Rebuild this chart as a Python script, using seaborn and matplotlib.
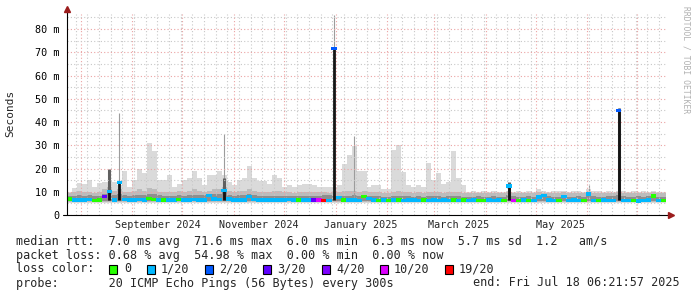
import numpy as np
import pandas as pd
import matplotlib
matplotlib.use("Agg")
import matplotlib.pyplot as plt
import matplotlib.dates as mdates
from matplotlib.ticker import MultipleLocator, FuncFormatter, NullFormatter
from matplotlib.patches import Rectangle
import seaborn as sns

# ---------------- data ----------------
period_start = "2024-07-23 18:00"
period_end = "2025-07-18 06:21:57"

loss_levels = ["0", "1/20", "2/20", "3/20", "4/20", "10/20", "19/20"]
loss_colors = ["#26ff00", "#00b8ff", "#0059ff", "#5e00ff", "#7e00ff", "#dd00ff", "#ff0000"]

# median rtt per 3-day bin (ms)
median_ms = [
    6.8, 6.5, 6.4, 6.5, 6.6, 6.3, 6.4, 8.0, 10.0, 6.5,
    14.0, 6.6, 6.5, 6.4, 6.6, 6.5, 7.0, 6.6, 6.5, 6.4,
    6.4, 6.5, 6.6, 6.4, 6.5, 6.6, 6.5, 6.5, 8.5, 6.8,
    6.6, 10.5, 6.8, 6.5, 6.4, 6.5, 8.0, 6.6, 6.5, 6.4,
    6.5, 6.4, 6.5, 6.5, 6.6, 6.4, 6.5, 6.4, 6.5, 6.4,
    6.5, 6.3, 6.3, 71.6, 7.5, 6.4, 6.5, 6.4, 6.3, 8.0,
    7.2, 6.4, 6.3, 6.4, 6.3, 6.5, 6.4, 6.3, 6.4, 6.4,
    6.3, 6.4, 6.3, 6.4, 6.3, 6.4, 6.3, 6.4, 6.3, 6.4,
    6.3, 6.4, 6.3, 6.3, 6.4, 6.3, 6.4, 6.3, 12.5, 6.2,
    6.3, 6.4, 6.3, 6.3, 7.8, 8.5, 6.4, 6.3, 6.3, 8.0,
    6.3, 6.4, 6.3, 6.3, 9.0, 6.3, 6.3, 6.4, 6.3, 6.3,
    45.0, 6.3, 6.2, 6.3, 6.0, 6.3, 6.4, 8.2, 6.3, 6.3,
]

# loss level index per bin
loss_idx = [
    0, 1, 1, 1, 1, 0, 0, 3, 1, 1,
    1, 1, 1, 1, 1, 1, 0, 0, 1, 0,
    1, 1, 0, 1, 1, 1, 1, 1, 1, 1,
    1, 1, 1, 1, 1, 1, 1, 1, 1, 1,
    1, 1, 1, 1, 1, 1, 0, 1, 1, 3,
    5, 6, 1, 2, 1, 0, 1, 1, 1, 0,
    1, 1, 0, 1, 0, 1, 0, 1, 1, 1,
    1, 0, 1, 1, 1, 1, 1, 0, 1, 0,
    1, 1, 0, 0, 1, 1, 1, 0, 1, 5,
    0, 1, 0, 1, 1, 1, 1, 1, 0, 1,
    1, 1, 1, 0, 1, 1, 0, 1, 1, 1,
    2, 1, 1, 0, 1, 1, 1, 0, 1, 0,
]

# smoke: lowest ping, dense band tops and highest ping per bin (ms)
smoke_min = [
    5.0, 5.1, 5.0, 5.0, 5.2, 5.0, 5.1, 5.0, 5.2, 5.0,
    5.1, 5.0, 5.0, 5.1, 5.0, 5.0, 5.2, 5.0, 5.1, 5.0,
    5.0, 5.1, 5.0, 5.0, 5.1, 5.0, 5.0, 5.1, 5.0, 5.2,
    5.0, 5.1, 5.0, 5.0, 5.1, 5.0, 5.0, 5.1, 5.0, 5.0,
    5.1, 5.0, 5.0, 5.1, 5.0, 5.0, 5.1, 5.0, 5.0, 5.1,
    5.0, 5.0, 5.1, 5.0, 5.0, 5.1, 5.0, 5.0, 5.1, 5.0,
    5.0, 5.1, 5.0, 5.0, 5.1, 5.0, 5.0, 5.1, 5.0, 5.0,
    5.1, 5.0, 5.0, 5.1, 5.0, 5.0, 5.1, 5.0, 5.0, 5.1,
    5.0, 5.0, 5.1, 5.0, 5.0, 5.1, 5.0, 5.0, 5.1, 5.0,
    5.0, 5.1, 5.0, 5.0, 5.1, 5.0, 5.0, 5.1, 5.0, 5.0,
    5.1, 5.0, 5.0, 5.1, 5.0, 5.0, 5.1, 5.0, 5.0, 5.1,
    5.0, 5.0, 5.1, 5.0, 5.0, 5.1, 5.0, 5.0, 5.1, 5.0,
]
smoke_mid = [
    8.0, 8.2, 8.5, 8.3, 8.5, 8.0, 8.3, 9.0, 10.0, 8.5,
    9.0, 8.5, 8.2, 8.5, 8.8, 8.5, 9.0, 9.0, 8.5, 8.3,
    8.2, 8.2, 8.5, 8.3, 8.5, 8.8, 8.5, 8.5, 9.0, 9.0,
    9.0, 10.0, 8.5, 8.3, 8.5, 8.5, 9.0, 8.5, 8.3, 8.2,
    8.2, 8.3, 8.3, 8.0, 8.0, 8.0, 8.2, 8.0, 8.0, 8.2,
    8.3, 8.5, 8.5, 8.3, 8.0, 8.3, 8.3, 8.5, 8.2, 8.7,
    8.3, 8.0, 8.0, 7.8, 7.8, 8.0, 8.2, 8.0, 8.0, 7.8,
    8.0, 7.8, 8.0, 8.0, 8.0, 7.8, 8.0, 8.2, 8.0, 7.8,
    7.8, 7.8, 8.0, 7.8, 7.8, 8.0, 7.8, 7.8, 8.5, 8.3,
    7.8, 7.8, 8.0, 7.8, 8.3, 8.5, 8.0, 7.8, 7.8, 8.3,
    7.8, 7.8, 8.0, 7.8, 8.5, 8.0, 7.8, 7.8, 8.0, 8.0,
    8.5, 8.0, 7.8, 7.8, 8.0, 7.8, 8.0, 8.5, 7.8, 7.8,
]
smoke_upper = [
    9.5, 10.0, 10.5, 10.0, 10.0, 9.5, 10.0, 11.0, 12.0, 10.5,
    11.0, 10.0, 10.0, 10.5, 11.0, 10.5, 11.5, 11.0, 10.0, 10.0,
    10.0, 10.0, 10.5, 10.0, 10.5, 11.0, 10.5, 10.0, 10.5, 11.0,
    11.0, 12.0, 10.5, 10.0, 10.5, 10.5, 11.0, 10.5, 10.0, 10.0,
    10.0, 10.5, 10.5, 10.0, 10.0, 9.5, 10.0, 10.0, 10.0, 10.0,
    10.0, 10.0, 9.5, 10.0, 10.0, 10.5, 10.5, 10.5, 10.0, 10.5,
    10.0, 10.0, 10.0, 9.5, 9.5, 10.0, 10.5, 10.0, 10.0, 9.5,
    10.0, 9.5, 10.0, 10.0, 10.0, 9.5, 10.0, 10.0, 10.0, 9.5,
    9.5, 9.5, 9.5, 9.5, 9.5, 9.5, 9.5, 9.5, 10.0, 9.5,
    9.5, 9.5, 9.5, 9.5, 10.0, 9.5, 9.5, 9.5, 9.5, 10.0,
    9.5, 9.5, 9.5, 9.5, 10.0, 9.5, 9.5, 9.5, 9.5, 9.5,
    10.0, 9.5, 9.5, 9.5, 9.5, 9.5, 9.5, 10.0, 9.5, 9.5,
]
smoke_max = [
    10, 11.5, 13.7, 13.5, 15, 12, 13.7, 14, 14, 14,
    13, 19, 12, 15, 20, 18, 31, 27.5, 15, 15,
    17, 12, 13.5, 15, 16, 19, 16, 13, 17, 17,
    19, 17, 14, 13, 15, 16, 21, 16, 14.5, 14.5,
    13.5, 17, 16, 12, 13, 12, 13, 13.5, 13.5, 13,
    12, 12, 12, 12, 13, 22, 26, 29.5, 19, 19,
    12, 13, 13, 11, 11, 28, 30, 18.5, 13, 12,
    13, 12, 22.5, 15, 18, 13.5, 14, 27.5, 16, 13,
    10, 10.5, 10, 10.5, 10, 10.5, 10, 10, 10.5, 10,
    10.5, 10, 10.5, 10, 11, 10.5, 10, 10.5, 10.5, 10.5,
    10, 10.5, 10.5, 10, 11, 10.5, 10.5, 10, 10.5, 10,
    10.5, 10.5, 10, 10.5, 10, 10.5, 10, 10.5, 10, 10,
]

# dense dark smoke spikes and single high pings
dark_bins = [8, 31, 88, 110]
dark_vals = [20, 16, 14, 46]
thin_bins = [10, 31, 53, 57, 104, 110]
thin_vals = [44, 35, 86, 34, 13, 46]

month_labels = ["September 2024", "November 2024", "January 2025", "March 2025", "May 2025"]
month_label_dates = ["2024-09-16", "2024-11-16", "2025-01-16", "2025-03-16", "2025-05-16"]

stats_rtt = "median rtt:  7.0 ms avg  71.6 ms max  6.0 ms min  6.3 ms now  5.7 ms sd  1.2   am/s"
stats_loss = "packet loss: 0.68 % avg  54.98 % max  0.00 % min  0.00 % now"
probe_text = "probe:       20 ICMP Echo Pings (56 Bytes) every 300s"
end_text = "end: Fri Jul 18 06:21:57 2025"

# ---------------- drawing ----------------
sns.set_style("white")
plt.rcParams["font.family"] = ["DejaVu Sans Mono"]

W, H = 697, 297
fig = plt.figure(figsize=(W / 100, H / 100), dpi=100)
ax = fig.add_axes([67 / W, 1 - 215 / H, 599 / W, 201 / H])

n = len(median_ms)
t0 = mdates.date2num(pd.Timestamp(period_start))
t1 = mdates.date2num(pd.Timestamp(period_end))
edges = np.linspace(t0, t1, n + 1)
centers = (edges[:-1] + edges[1:]) / 2

def stepfill(lo, hi, color, z):
    lo = np.asarray(lo, float)
    hi = np.asarray(hi, float)
    ax.fill_between(edges, np.r_[lo, lo[-1]], np.r_[hi, hi[-1]], step="post",
                    color=color, lw=0, zorder=z)

stepfill(smoke_min, smoke_max, "#dadada", 1)
stepfill(np.asarray(smoke_min) + 0.4, smoke_upper, "#bcbcbc", 1.1)
stepfill(np.asarray(smoke_min) + 0.9, smoke_mid, "#8e8e8e", 1.2)

ax.vlines(centers[thin_bins], 6.5, thin_vals, color="#9c9c9c", lw=0.8, zorder=1.5)
ax.vlines(centers[dark_bins], 6.5, dark_vals, color="#606060", lw=2.2, zorder=1.6)

med = np.asarray(median_ms)
spk = med > 9
ax.vlines(centers[spk], 6.3, med[spk], color="#141414", lw=2.0, zorder=4)

df = pd.DataFrame({"t": centers, "median": med,
                   "loss": [loss_levels[i] for i in loss_idx]})
bar_marker = [(-1, -0.6), (1, -0.6), (1, 0.6), (-1, 0.6)]
sns.scatterplot(data=df, x="t", y="median", hue="loss", hue_order=loss_levels,
                palette=dict(zip(loss_levels, loss_colors)), marker=bar_marker,
                s=17, linewidth=0, legend=False, ax=ax, zorder=5)

ax.set_xlim(t0, t1)
ax.set_ylim(0, 86.5)
ax.set_xlabel("")
ax.set_ylabel("")

ax.xaxis.set_major_locator(mdates.MonthLocator())
ax.xaxis.set_minor_locator(mdates.WeekdayLocator(byweekday=mdates.MO))
ax.xaxis.set_major_formatter(NullFormatter())
ax.yaxis.set_major_locator(MultipleLocator(10))
ax.yaxis.set_minor_locator(MultipleLocator(5))
ax.yaxis.set_major_formatter(FuncFormatter(lambda v, p: "0" if v == 0 else f"{int(round(v))} m"))
ax.set_axisbelow(False)
ax.grid(which="major", color="#eba3a3", ls=(0, (1, 2)), lw=0.8)
ax.grid(which="minor", color="#c8c8c8", ls=(0, (1, 2)), lw=0.8)
ax.tick_params(axis="y", which="major", length=2.2, width=0.7, pad=3.5, labelsize=7.3, colors="black")
ax.tick_params(axis="x", which="major", length=2.0, width=0.7, colors="#333333")
ax.tick_params(which="minor", length=0)

for s in ["top", "right", "left", "bottom"]:
    ax.spines[s].set_visible(False)

ax.plot([0, 0], [0, 1.02], transform=ax.transAxes, clip_on=False, color="black", lw=0.8, zorder=6)
ax.plot([-0.007, 1.006], [0, 0], transform=ax.transAxes, clip_on=False, color="black", lw=0.8, zorder=6)
ax.plot([0], [1.025], marker="^", ms=4, color="#9b1c1c", transform=ax.transAxes, clip_on=False, zorder=7)
ax.plot([1.008], [0], marker=">", ms=4, color="#9b1c1c", transform=ax.transAxes, clip_on=False, zorder=7)

for lab, d in zip(month_labels, month_label_dates):
    ax.text(mdates.date2num(pd.Timestamp(d)), -10 / 201, lab, transform=ax.get_xaxis_transform(),
            ha="center", va="center", fontsize=7.3)

fig.text(10 / W, 1 - 113 / H, "Seconds", rotation=90, ha="center", va="center", fontsize=8)
fig.text(686 / W, 1 - 60 / H, "RRDTOOL / TOBI OETIKER", rotation=270, ha="center", va="center",
         fontsize=5.8, color="#b0b0b0")

fs = 8.5
fig.text(16 / W, 1 - 241 / H, stats_rtt, ha="left", va="center", fontsize=fs)
fig.text(16 / W, 1 - 255 / H, stats_loss, ha="left", va="center", fontsize=fs)
fig.text(16 / W, 1 - 269 / H, "loss color:", ha="left", va="center", fontsize=fs)
fig.text(16 / W, 1 - 283 / H, probe_text, ha="left", va="center", fontsize=fs)
fig.text(680 / W, 1 - 283 / H, end_text, ha="right", va="center", fontsize=fs)

box_x = [109, 147, 205, 263, 322, 380, 445]
lab_x = [124, 161, 219, 277, 336, 394, 459]
for bx, lx, lab, col in zip(box_x, lab_x, loss_levels, loss_colors):
    fig.add_artist(Rectangle((bx / W, 1 - 273.5 / H), 8 / W, 9 / H, transform=fig.transFigure,
                             facecolor=col, edgecolor="black", lw=0.8))
    fig.text(lx / W, 1 - 269 / H, lab, ha="left", va="center", fontsize=fs)

fig.savefig("out.png", dpi=100)
